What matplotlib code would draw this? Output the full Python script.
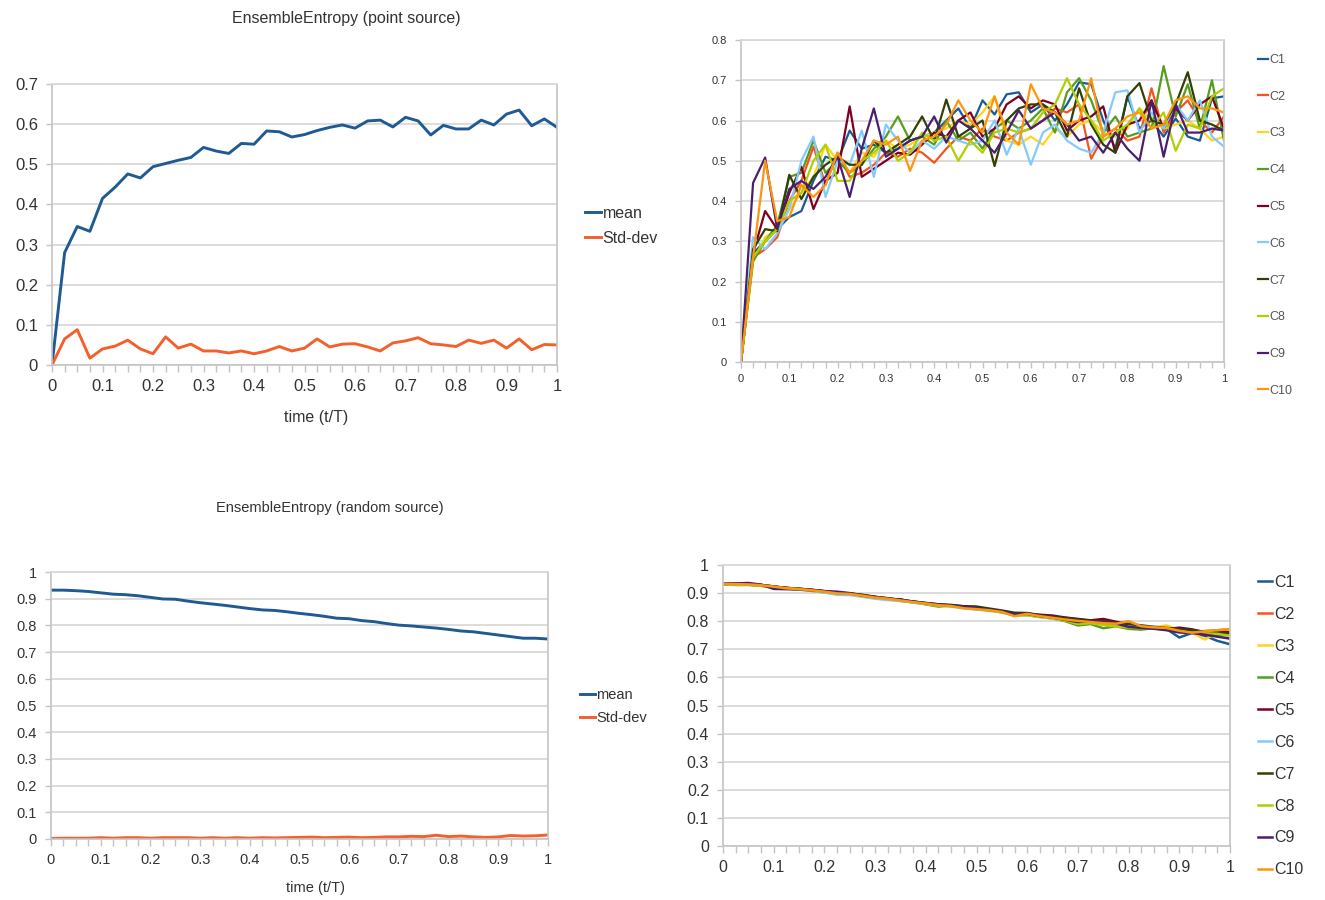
import numpy as np
import matplotlib
matplotlib.use("Agg")
import matplotlib.pyplot as plt
from matplotlib.ticker import FixedLocator, FuncFormatter

plt.rcParams['font.family'] = ['Liberation Sans', 'DejaVu Sans']

# time axis (t/T), 41 samples
t = np.linspace(0, 1, 41)

# ---- point source: ensemble statistics ----
point_mean = [0.0, 0.28, 0.345, 0.333, 0.415, 0.443, 0.476, 0.466, 0.494, 0.502,
              0.51, 0.517, 0.542, 0.533, 0.527, 0.552, 0.55, 0.583, 0.581, 0.568,
              0.574, 0.584, 0.592, 0.598, 0.59, 0.608, 0.61, 0.593, 0.617, 0.608,
              0.573, 0.597, 0.588, 0.588, 0.61, 0.598, 0.625, 0.635, 0.596, 0.613, 0.592]
point_std = [0.0, 0.065, 0.088, 0.017, 0.04, 0.047, 0.062, 0.04, 0.028, 0.07,
             0.042, 0.052, 0.035, 0.035, 0.03, 0.035, 0.028, 0.035, 0.046, 0.035,
             0.042, 0.065, 0.045, 0.052, 0.053, 0.045, 0.035, 0.055, 0.06, 0.068,
             0.053, 0.05, 0.046, 0.062, 0.054, 0.062, 0.042, 0.065, 0.038, 0.051, 0.05]

# ---- point source: individual runs ----
p_C1 = [0, 0.27, 0.30, 0.33, 0.36, 0.375, 0.45, 0.51, 0.50, 0.575, 0.53, 0.54, 0.52, 0.53,
        0.55, 0.56, 0.57, 0.60, 0.63, 0.58, 0.65, 0.615, 0.665, 0.67, 0.62, 0.64, 0.60,
        0.64, 0.695, 0.69, 0.60, 0.53, 0.66, 0.58, 0.60, 0.56, 0.605, 0.56, 0.55, 0.655, 0.66]
p_C2 = [0, 0.26, 0.28, 0.31, 0.40, 0.45, 0.535, 0.44, 0.52, 0.46, 0.47, 0.49, 0.52, 0.51,
        0.53, 0.52, 0.495, 0.53, 0.56, 0.55, 0.58, 0.56, 0.55, 0.57, 0.58, 0.60, 0.63,
        0.62, 0.64, 0.505, 0.56, 0.58, 0.55, 0.56, 0.68, 0.57, 0.62, 0.65, 0.60, 0.57, 0.61]
p_C3 = [0, 0.25, 0.31, 0.33, 0.38, 0.42, 0.46, 0.54, 0.50, 0.47, 0.52, 0.51, 0.55, 0.53,
        0.54, 0.56, 0.57, 0.58, 0.60, 0.59, 0.62, 0.66, 0.55, 0.54, 0.56, 0.54, 0.58,
        0.56, 0.59, 0.60, 0.57, 0.56, 0.58, 0.63, 0.60, 0.58, 0.59, 0.60, 0.58, 0.55, 0.56]
p_C4 = [0, 0.25, 0.30, 0.34, 0.46, 0.47, 0.55, 0.47, 0.50, 0.47, 0.49, 0.53, 0.56, 0.61,
        0.55, 0.56, 0.54, 0.60, 0.55, 0.57, 0.53, 0.58, 0.60, 0.58, 0.60, 0.63, 0.57,
        0.67, 0.705, 0.65, 0.57, 0.61, 0.56, 0.57, 0.58, 0.735, 0.61, 0.69, 0.58, 0.70, 0.55]
p_C5 = [0, 0.27, 0.375, 0.33, 0.42, 0.485, 0.38, 0.45, 0.47, 0.635, 0.46, 0.48, 0.50, 0.52,
        0.515, 0.54, 0.57, 0.56, 0.60, 0.62, 0.56, 0.58, 0.64, 0.66, 0.63, 0.65, 0.64,
        0.575, 0.60, 0.61, 0.635, 0.52, 0.59, 0.60, 0.65, 0.58, 0.63, 0.60, 0.64, 0.66, 0.58]
p_C6 = [0, 0.31, 0.28, 0.32, 0.38, 0.50, 0.56, 0.41, 0.50, 0.49, 0.575, 0.46, 0.59, 0.55,
        0.52, 0.55, 0.53, 0.56, 0.55, 0.54, 0.55, 0.60, 0.515, 0.58, 0.49, 0.57, 0.59,
        0.55, 0.53, 0.52, 0.57, 0.67, 0.675, 0.57, 0.62, 0.58, 0.64, 0.60, 0.65, 0.56, 0.535]
p_C7 = [0, 0.28, 0.33, 0.325, 0.465, 0.405, 0.46, 0.49, 0.51, 0.49, 0.49, 0.55, 0.52, 0.54,
        0.56, 0.61, 0.55, 0.652, 0.56, 0.58, 0.60, 0.487, 0.60, 0.63, 0.64, 0.64, 0.62,
        0.56, 0.68, 0.59, 0.54, 0.52, 0.66, 0.693, 0.60, 0.59, 0.64, 0.72, 0.60, 0.59, 0.575]
p_C8 = [0, 0.26, 0.30, 0.33, 0.40, 0.42, 0.50, 0.54, 0.45, 0.45, 0.50, 0.52, 0.55, 0.50,
        0.52, 0.57, 0.55, 0.56, 0.50, 0.55, 0.52, 0.57, 0.58, 0.57, 0.58, 0.62, 0.64,
        0.705, 0.64, 0.60, 0.55, 0.57, 0.59, 0.63, 0.58, 0.62, 0.525, 0.59, 0.58, 0.66, 0.68]
p_C9 = [0, 0.445, 0.508, 0.33, 0.43, 0.45, 0.43, 0.46, 0.51, 0.41, 0.53, 0.63, 0.51, 0.53,
        0.55, 0.56, 0.61, 0.545, 0.60, 0.58, 0.55, 0.52, 0.57, 0.625, 0.58, 0.60, 0.62,
        0.59, 0.55, 0.56, 0.52, 0.57, 0.53, 0.50, 0.65, 0.51, 0.64, 0.57, 0.57, 0.58, 0.575]
p_C10 = [0, 0.26, 0.50, 0.35, 0.36, 0.44, 0.41, 0.44, 0.52, 0.47, 0.50, 0.55, 0.54, 0.56,
         0.475, 0.55, 0.56, 0.59, 0.65, 0.60, 0.57, 0.66, 0.57, 0.54, 0.69, 0.63, 0.62,
         0.59, 0.60, 0.705, 0.56, 0.58, 0.61, 0.62, 0.58, 0.59, 0.65, 0.66, 0.63, 0.63, 0.62]

# ---- random source: ensemble statistics ----
rand_mean = [0.932, 0.932, 0.930, 0.927, 0.922, 0.917, 0.915, 0.911, 0.905, 0.899,
             0.898, 0.891, 0.885, 0.880, 0.875, 0.869, 0.863, 0.858, 0.856, 0.851,
             0.845, 0.840, 0.834, 0.827, 0.825, 0.818, 0.814, 0.807, 0.801, 0.798,
             0.794, 0.790, 0.785, 0.779, 0.776, 0.770, 0.764, 0.758, 0.752, 0.752, 0.749]
rand_std = [0.002, 0.003, 0.003, 0.003, 0.005, 0.003, 0.005, 0.005, 0.003, 0.005,
            0.005, 0.005, 0.003, 0.005, 0.003, 0.005, 0.003, 0.005, 0.004, 0.005,
            0.006, 0.007, 0.005, 0.006, 0.007, 0.005, 0.006, 0.008, 0.008, 0.010,
            0.009, 0.014, 0.009, 0.011, 0.008, 0.006, 0.008, 0.013, 0.011, 0.012, 0.015]

# ---- random source: individual runs ----
r_C1 = [0.932, 0.933, 0.931, 0.928, 0.920, 0.916, 0.914, 0.910, 0.906, 0.900, 0.897, 0.892,
        0.884, 0.879, 0.874, 0.870, 0.862, 0.858, 0.855, 0.850, 0.848, 0.842, 0.835, 0.826,
        0.826, 0.817, 0.812, 0.806, 0.803, 0.797, 0.793, 0.788, 0.787, 0.780, 0.775, 0.772,
        0.742, 0.758, 0.748, 0.730, 0.718]
r_C2 = [0.931, 0.932, 0.930, 0.929, 0.923, 0.918, 0.914, 0.912, 0.906, 0.898, 0.899, 0.890,
        0.886, 0.881, 0.874, 0.868, 0.864, 0.857, 0.855, 0.852, 0.846, 0.841, 0.833, 0.826,
        0.824, 0.819, 0.813, 0.806, 0.800, 0.799, 0.795, 0.789, 0.786, 0.780, 0.777, 0.771,
        0.768, 0.762, 0.765, 0.768, 0.770]
r_C3 = [0.932, 0.931, 0.931, 0.927, 0.922, 0.916, 0.915, 0.910, 0.904, 0.900, 0.897, 0.890,
        0.885, 0.880, 0.876, 0.868, 0.862, 0.859, 0.855, 0.849, 0.844, 0.838, 0.835, 0.826,
        0.823, 0.817, 0.812, 0.806, 0.799, 0.795, 0.790, 0.796, 0.786, 0.781, 0.778, 0.785,
        0.768, 0.760, 0.735, 0.758, 0.765]
r_C4 = [0.931, 0.929, 0.929, 0.926, 0.921, 0.918, 0.913, 0.908, 0.903, 0.897, 0.896, 0.889,
        0.884, 0.879, 0.872, 0.868, 0.860, 0.852, 0.857, 0.850, 0.845, 0.839, 0.832, 0.825,
        0.823, 0.816, 0.810, 0.800, 0.785, 0.790, 0.775, 0.782, 0.773, 0.770, 0.776, 0.772,
        0.762, 0.760, 0.758, 0.750, 0.752]
r_C5 = [0.932, 0.933, 0.933, 0.929, 0.923, 0.919, 0.915, 0.912, 0.906, 0.902, 0.897, 0.893,
        0.886, 0.878, 0.878, 0.867, 0.864, 0.860, 0.856, 0.853, 0.850, 0.842, 0.835, 0.828,
        0.827, 0.823, 0.820, 0.813, 0.808, 0.803, 0.808, 0.798, 0.790, 0.782, 0.775, 0.772,
        0.777, 0.771, 0.760, 0.765, 0.760]
r_C6 = [0.930, 0.931, 0.930, 0.927, 0.922, 0.916, 0.912, 0.908, 0.902, 0.894, 0.893, 0.887,
        0.880, 0.875, 0.873, 0.866, 0.861, 0.856, 0.852, 0.846, 0.841, 0.838, 0.832, 0.822,
        0.820, 0.815, 0.809, 0.803, 0.798, 0.795, 0.792, 0.788, 0.785, 0.778, 0.774, 0.769,
        0.765, 0.760, 0.762, 0.758, 0.752]
r_C7 = [0.932, 0.932, 0.931, 0.929, 0.924, 0.918, 0.916, 0.911, 0.907, 0.901, 0.899, 0.894,
        0.887, 0.881, 0.876, 0.870, 0.865, 0.860, 0.858, 0.853, 0.852, 0.845, 0.838, 0.830,
        0.829, 0.821, 0.816, 0.812, 0.806, 0.802, 0.800, 0.795, 0.790, 0.785, 0.780, 0.776,
        0.772, 0.768, 0.763, 0.760, 0.757]
r_C8 = [0.931, 0.930, 0.930, 0.926, 0.921, 0.917, 0.914, 0.909, 0.905, 0.898, 0.897, 0.889,
        0.884, 0.879, 0.874, 0.867, 0.862, 0.855, 0.853, 0.848, 0.843, 0.838, 0.831, 0.820,
        0.822, 0.815, 0.811, 0.802, 0.790, 0.793, 0.787, 0.781, 0.778, 0.775, 0.777, 0.770,
        0.763, 0.759, 0.757, 0.755, 0.748]
r_C9 = [0.933, 0.934, 0.936, 0.930, 0.915, 0.914, 0.913, 0.910, 0.907, 0.905, 0.900, 0.891,
        0.886, 0.882, 0.876, 0.870, 0.864, 0.859, 0.855, 0.852, 0.847, 0.840, 0.836, 0.825,
        0.826, 0.818, 0.813, 0.805, 0.797, 0.800, 0.796, 0.792, 0.780, 0.776, 0.773, 0.768,
        0.760, 0.758, 0.752, 0.745, 0.738]
r_C10 = [0.932, 0.932, 0.931, 0.928, 0.923, 0.917, 0.914, 0.910, 0.905, 0.899, 0.897, 0.891,
         0.884, 0.880, 0.874, 0.868, 0.863, 0.857, 0.854, 0.846, 0.843, 0.839, 0.833, 0.818,
         0.826, 0.818, 0.812, 0.806, 0.801, 0.797, 0.793, 0.791, 0.800, 0.782, 0.778, 0.776,
         0.766, 0.759, 0.764, 0.768, 0.772]

run_labels = ['C1', 'C2', 'C3', 'C4', 'C5', 'C6', 'C7', 'C8', 'C9', 'C10']
run_colors = ['#1b5a92', '#f5541e', '#ffd320', '#579d1c', '#7e0021',
              '#83caff', '#314004', '#aecf00', '#4b1f6f', '#ff950e']
point_runs = [p_C1, p_C2, p_C3, p_C4, p_C5, p_C6, p_C7, p_C8, p_C9, p_C10]
rand_runs = [r_C1, r_C2, r_C3, r_C4, r_C5, r_C6, r_C7, r_C8, r_C9, r_C10]

MEAN_COLOR = '#1f5a93'
STD_COLOR = '#f4602c'
GRID = '#d9d9d9'
AXIS = '#c4c4c4'
TXT = '#333333'

W, H = 1325, 900
fig = plt.figure(figsize=(W / 100, H / 100), dpi=100)


def px_axes(x0, x1, ytop, ybot):
    return fig.add_axes([x0 / W, 1 - ybot / H, (x1 - x0) / W, (ybot - ytop) / H])


def style(ax, ymax, ystep, fs):
    ax.set_xlim(0, 1)
    ax.set_ylim(0, ymax)
    yt = np.round(np.arange(0, ymax + 1e-9, ystep), 2)
    ax.yaxis.set_major_locator(FixedLocator(yt))
    ax.xaxis.set_major_locator(FixedLocator(np.round(np.arange(0, 1.0001, 0.1), 2)))
    ax.xaxis.set_minor_locator(FixedLocator(t))
    fmt = FuncFormatter(lambda v, p: f"{v:g}")
    ax.xaxis.set_major_formatter(fmt)
    ax.yaxis.set_major_formatter(fmt)
    ax.grid(axis='y', color=GRID, lw=1.3)
    ax.set_axisbelow(True)
    for s in ['left', 'bottom', 'right']:
        ax.spines[s].set_color(AXIS)
        ax.spines[s].set_linewidth(1.2)
    ax.spines['top'].set_color(GRID)
    ax.spines['top'].set_linewidth(1.3)
    ax.tick_params(axis='both', which='both', direction='out', color=AXIS,
                   labelcolor=TXT, labelsize=fs, width=1.0)
    ax.tick_params(axis='x', which='major', length=5, pad=5)
    ax.tick_params(axis='x', which='minor', length=5)
    ax.tick_params(axis='y', which='major', length=4, pad=6)


# top-left: point source statistics
ax1 = px_axes(52, 557, 84, 365)
style(ax1, 0.7, 0.1, 12)
ax1.plot(t, point_mean, color=MEAN_COLOR, lw=2.1, label='mean')
ax1.plot(t, point_std, color=STD_COLOR, lw=2.1, label='Std-dev')
ax1.legend(loc='upper left', bbox_to_anchor=(585 / W, 1 - 206 / H),
           bbox_transform=fig.transFigure, frameon=False, fontsize=11.5,
           handlelength=1.0, handletextpad=0.1, labelspacing=0.62,
           borderpad=0, borderaxespad=0, labelcolor=TXT)
fig.text(346 / W, 1 - 18 / H, 'EnsembleEntropy (point source)', ha='center',
         va='center', fontsize=11.5, color=TXT)
fig.text(316 / W, 1 - 417 / H, 'time (t/T)', ha='center', va='center',
         fontsize=11.5, color=TXT)

# top-right: point source runs
ax2 = px_axes(741, 1224, 40, 362)
style(ax2, 0.8, 0.1, 8)
for y, c, lab in zip(point_runs, run_colors, run_labels):
    ax2.plot(t, y, color=c, lw=1.6, label=lab)
ax2.tick_params(axis='x', which='both', length=4)
ax2.legend(loc='upper left', bbox_to_anchor=(1258 / W, 1 - 54 / H),
           bbox_transform=fig.transFigure, frameon=False, fontsize=9,
           handlelength=0.8, handletextpad=0.1, labelspacing=1.98,
           borderpad=0, borderaxespad=0, labelcolor='#555555')

# bottom-left: random source statistics
ax3 = px_axes(51, 548, 572, 839)
style(ax3, 1.0, 0.1, 10.5)
ax3.plot(t, rand_mean, color=MEAN_COLOR, lw=2.1, label='mean')
ax3.plot(t, rand_std, color=STD_COLOR, lw=2.1, label='Std-dev')
ax3.legend(loc='upper left', bbox_to_anchor=(580 / W, 1 - 688 / H),
           bbox_transform=fig.transFigure, frameon=False, fontsize=10.5,
           handlelength=1.0, handletextpad=0.1, labelspacing=0.6,
           borderpad=0, borderaxespad=0, labelcolor=TXT)
fig.text(330 / W, 1 - 508 / H, 'EnsembleEntropy (random source)', ha='center',
         va='center', fontsize=10.5, color=TXT)
fig.text(316 / W, 1 - 888 / H, 'time (t/T)', ha='center', va='center',
         fontsize=10.5, color=TXT)

# bottom-right: random source runs
ax4 = px_axes(723, 1230, 565, 846)
style(ax4, 1.0, 0.1, 11.5)
for y, c, lab in zip(rand_runs, run_colors, run_labels):
    ax4.plot(t, y, color=c, lw=1.8, label=lab)
ax4.legend(loc='upper left', bbox_to_anchor=(1258 / W, 1 - 575 / H),
           bbox_transform=fig.transFigure, frameon=False, fontsize=11.5,
           handlelength=0.9, handletextpad=0.1, labelspacing=1.06,
           borderpad=0, borderaxespad=0, labelcolor=TXT)

fig.savefig('out.png', dpi=100, facecolor='white')
